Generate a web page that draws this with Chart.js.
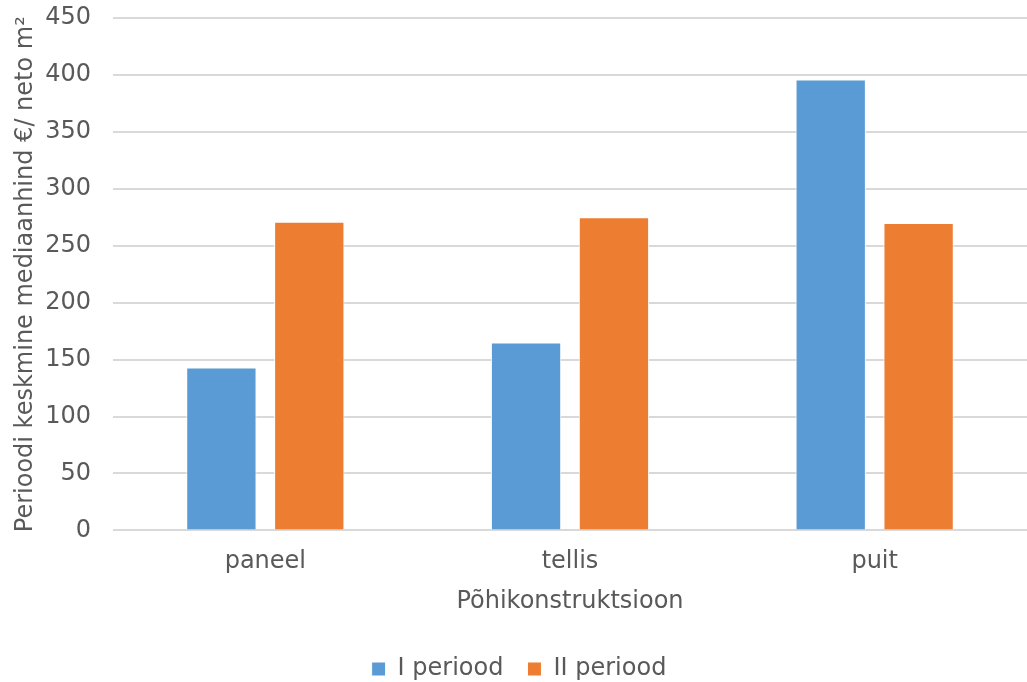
<!DOCTYPE html>
<html>
<head>
<meta charset="utf-8">
<script src="https://cdn.jsdelivr.net/npm/chart.js@4/dist/chart.umd.min.js"></script>
<style>
  html, body { margin: 0; padding: 0; background: #fff; }
  #wrap { width: 1027px; height: 682px; }
</style>
</head>
<body>
<div id="wrap"><canvas id="myChart" width="1027" height="682"></canvas></div>
<script>
var categories = ['paneel', 'tellis', 'puit'];
var periodI = [143, 165, 396];
var periodII = [271, 275, 270];
var seriesNames = ['I periood', 'II periood'];

var textColor = '#595959';
var fontFamily = "'DejaVu Sans', Verdana, sans-serif";
var font = { family: fontFamily, size: 24 };

var ctx = document.getElementById('myChart').getContext('2d');
var myChart = new Chart(ctx, {
    type: 'bar',
    data: {
      labels: categories,
      datasets: [{
          label: seriesNames[0],
          data: periodI,
          backgroundColor: '#5b9bd5',
          borderColor: '#ffffff',
          borderWidth: 1
        }, {
          label: seriesNames[1],
          data: periodII,
          backgroundColor: '#ed7d31',
          borderColor: '#ffffff',
          borderWidth: 1
        }
      ]
    },
    options: {
      responsive: false,
      animation: false,
      categoryPercentage: 0.577,
      barPercentage: 0.8,
      layout: {
        padding: { top: 18, right: 0, left: 11, bottom: -9 }
      },
      plugins: {
        legend: {
          position: 'bottom',
          labels: {
            color: textColor,
            font: font,
            boxWidth: 14,
            boxHeight: 14,
            padding: 24
          }
        },
        tooltip: { enabled: false }
      },
      scales: {
        y: {
          min: 0,
          max: 450,
          ticks: {
            stepSize: 50,
            color: textColor,
            font: font,
            padding: 22
          },
          grid: {
            color: '#d9d9d9',
            lineWidth: 2,
            drawTicks: false
          },
          border: { display: false },
          title: {
            display: true,
            text: 'Perioodi keskmine mediaanhind €/ neto m²',
            color: textColor,
            font: font,
            padding: 0
          },
          afterFit: function(axis) {
            axis.width = 102;
            // let the top tick label hang above the plot area
            axis.paddingTop = 0;
            axis.paddingBottom = 0;
          }
        },
        x: {
          ticks: {
            color: textColor,
            font: font,
            padding: 8.5
          },
          grid: { display: false },
          border: { display: false },
          title: {
            display: true,
            text: 'Põhikonstruktsioon',
            color: textColor,
            font: font,
            padding: { top: 3, bottom: 17 }
          }
        }
      }
    }
});
</script>
</body>
</html>
